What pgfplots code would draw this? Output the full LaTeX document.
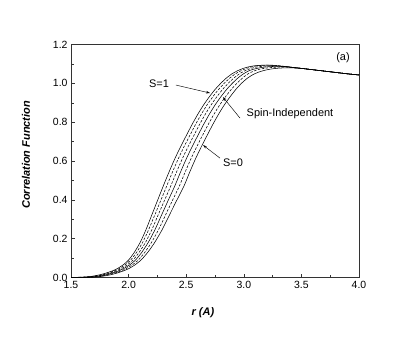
\documentclass[border=0pt]{standalone}
\usepackage{pgfplots}
\pgfplotsset{compat=1.18}
\usepackage{fontspec}
\setmainfont{Liberation Sans}
\usetikzlibrary{arrows.meta}
\begin{document}
\begin{tikzpicture}
\path[use as bounding box] (-71bp,-68.5bp) rectangle (336bp,277.5bp);
\begin{axis}[
  at={(0,0)}, anchor=south west, scale only axis,
  width=288bp, height=233bp,
  xmin=1.5, xmax=4.0, ymin=0, ymax=1.2,
  xtick={1.5,2.0,2.5,3.0,3.5,4.0},
  ytick={0,0.2,0.4,0.6,0.8,1.0,1.2},
  minor x tick num=1, minor y tick num=1,
  tick align=inside, xtick pos=left, ytick pos=left,
  major tick length=4bp, minor tick length=2.5bp,
  axis line style={line width=0.6pt, black!80},
  every tick/.style={black!80, line width=0.5pt},
  /pgf/number format/.cd, fixed, fixed zerofill, precision=1, assume math mode=true,
  /pgfplots/.cd,
  tick label style={font=\fontsize{10.5}{12}\selectfont},
  xlabel={\textbf{\textit{r (A)}}},
  ylabel={\textbf{\textit{Correlation Function}}},
  label style={font=\fontsize{11}{13}\selectfont},
  xlabel style={at={(axis description cs:0.458,-0.152)}, anchor=center},
  ylabel style={at={(axis description cs:-0.156,0.526)}, anchor=center},
  sol/.style={black, solid, no markers, line width=0.55pt, smooth, tension=0.4},
  das/.style={black, no markers, line width=0.55pt, smooth, tension=0.4, dash pattern=on 2.5bp off 1.5bp},
  clip=true,
]
% S=1 solid
\addplot[sol] coordinates {(1.50,0.000)(1.55,0.001)(1.60,0.002)(1.65,0.004)(1.70,0.008)(1.75,0.014)(1.80,0.022)(1.85,0.032)(1.90,0.045)(1.95,0.064)(2.00,0.090)(2.05,0.130)(2.10,0.180)(2.15,0.245)(2.20,0.320)(2.25,0.395)(2.30,0.470)(2.35,0.542)(2.40,0.610)(2.45,0.672)(2.50,0.730)(2.55,0.787)(2.60,0.840)(2.65,0.888)(2.70,0.930)(2.75,0.968)(2.80,1.000)(2.85,1.028)(2.90,1.050)(2.95,1.066)(3.00,1.078)(3.05,1.086)(3.10,1.091)(3.15,1.093)(3.20,1.094)(3.25,1.092)(3.30,1.090)(3.35,1.087)(3.40,1.084)(3.45,1.080)(3.50,1.077)(3.60,1.070)(3.70,1.063)(3.80,1.056)(3.90,1.049)(4.00,1.043)};
% S=1 dashed
\addplot[das] coordinates {(1.50,0.000)(1.565,0.001)(1.615,0.002)(1.665,0.004)(1.715,0.008)(1.766,0.014)(1.816,0.022)(1.866,0.032)(1.917,0.045)(1.967,0.064)(2.018,0.090)(2.070,0.130)(2.121,0.180)(2.173,0.245)(2.226,0.320)(2.278,0.395)(2.33,0.470)(2.38,0.542)(2.43,0.610)(2.48,0.672)(2.53,0.730)(2.58,0.787)(2.63,0.840)(2.68,0.888)(2.73,0.930)(2.78,0.968)(2.83,1.000)(2.88,1.028)(2.93,1.050)(2.98,1.066)(3.03,1.078)(3.08,1.086)(3.13,1.091)(3.18,1.093)(3.23,1.094)(3.28,1.092)(3.33,1.089)(3.38,1.085)(3.43,1.081)(3.50,1.077)(3.60,1.070)(3.70,1.063)(3.80,1.056)(3.90,1.049)(4.00,1.043)};
% Spin-independent dashed
\addplot[das] coordinates {(1.50,0.000)(1.583,0.001)(1.633,0.002)(1.683,0.004)(1.733,0.008)(1.784,0.014)(1.834,0.022)(1.885,0.032)(1.936,0.045)(1.987,0.064)(2.039,0.090)(2.092,0.130)(2.146,0.180)(2.201,0.245)(2.255,0.320)(2.310,0.395)(2.365,0.470)(2.415,0.542)(2.465,0.610)(2.515,0.672)(2.565,0.730)(2.615,0.787)(2.665,0.840)(2.715,0.888)(2.765,0.930)(2.815,0.968)(2.865,1.000)(2.915,1.028)(2.965,1.050)(3.015,1.066)(3.065,1.077)(3.115,1.084)(3.165,1.088)(3.215,1.090)(3.265,1.090)(3.32,1.088)(3.38,1.085)(3.44,1.081)(3.50,1.077)(3.60,1.070)(3.70,1.063)(3.80,1.056)(3.90,1.049)(4.00,1.043)};
% Spin-independent solid
\addplot[sol] coordinates {(1.50,0.000)(1.60,0.001)(1.65,0.002)(1.70,0.004)(1.75,0.008)(1.802,0.014)(1.853,0.022)(1.904,0.032)(1.955,0.045)(2.007,0.064)(2.06,0.090)(2.115,0.130)(2.17,0.180)(2.228,0.245)(2.285,0.320)(2.342,0.395)(2.40,0.470)(2.45,0.542)(2.50,0.610)(2.55,0.672)(2.60,0.730)(2.65,0.787)(2.70,0.840)(2.75,0.888)(2.80,0.930)(2.85,0.968)(2.90,1.000)(2.95,1.028)(3.00,1.050)(3.05,1.066)(3.10,1.075)(3.15,1.081)(3.20,1.085)(3.26,1.087)(3.32,1.087)(3.38,1.085)(3.44,1.081)(3.50,1.077)(3.60,1.070)(3.70,1.063)(3.80,1.056)(3.90,1.049)(4.00,1.043)};
% S=0 dashed
\addplot[das] coordinates {(1.50,0.000)(1.62,0.001)(1.67,0.002)(1.72,0.004)(1.77,0.008)(1.823,0.014)(1.874,0.022)(1.926,0.032)(1.977,0.045)(2.03,0.064)(2.084,0.090)(2.141,0.130)(2.198,0.180)(2.259,0.245)(2.319,0.320)(2.379,0.395)(2.44,0.470)(2.49,0.542)(2.54,0.610)(2.59,0.672)(2.64,0.730)(2.69,0.787)(2.74,0.840)(2.79,0.888)(2.84,0.930)(2.89,0.968)(2.94,1.000)(2.99,1.028)(3.04,1.050)(3.09,1.064)(3.14,1.073)(3.19,1.078)(3.25,1.082)(3.31,1.084)(3.37,1.084)(3.44,1.081)(3.50,1.077)(3.60,1.070)(3.70,1.063)(3.80,1.056)(3.90,1.049)(4.00,1.043)};
% S=0 solid
\addplot[sol] coordinates {(1.50,0.000)(1.64,0.001)(1.69,0.002)(1.74,0.004)(1.79,0.008)(1.844,0.014)(1.895,0.022)(1.947,0.032)(1.999,0.045)(2.053,0.064)(2.108,0.090)(2.167,0.130)(2.226,0.180)(2.29,0.245)(2.353,0.320)(2.416,0.395)(2.48,0.470)(2.53,0.542)(2.58,0.610)(2.63,0.672)(2.68,0.730)(2.73,0.787)(2.78,0.840)(2.83,0.888)(2.88,0.930)(2.93,0.968)(2.98,1.000)(3.03,1.026)(3.08,1.045)(3.13,1.058)(3.18,1.067)(3.24,1.074)(3.30,1.078)(3.37,1.080)(3.44,1.079)(3.50,1.077)(3.60,1.070)(3.70,1.063)(3.80,1.056)(3.90,1.049)(4.00,1.043)};
% annotations
\node[font=\fontsize{11}{13}\selectfont] at (axis cs:2.264,0.999) {S=1};
\draw[-{Stealth[length=4bp,width=2.5bp]}, line width=0.45pt] (axis cs:2.411,0.991) -- (axis cs:2.707,0.950);
\node[font=\fontsize{11}{13}\selectfont] at (axis cs:3.401,0.842) {Spin-Independent};
\draw[-{Stealth[length=4bp,width=2.5bp]}, line width=0.45pt] (axis cs:2.967,0.821) -- (axis cs:2.819,0.929);
\node[font=\fontsize{11}{13}\selectfont] at (axis cs:2.906,0.590) {S=0};
\draw[-{Stealth[length=4bp,width=2.5bp]}, line width=0.45pt] (axis cs:2.793,0.615) -- (axis cs:2.646,0.682);
\node[font=\fontsize{11}{13}\selectfont] at (axis cs:3.861,1.130) {(a)};
\end{axis}
\end{tikzpicture}
\end{document}
